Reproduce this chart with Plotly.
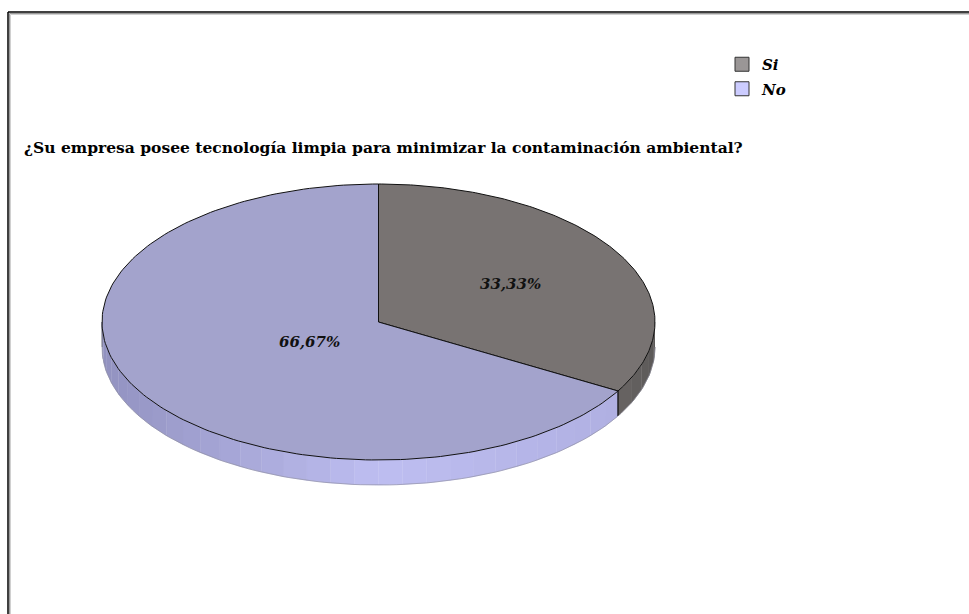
import numpy as np
import plotly.graph_objects as go

# Survey answers
categories = ["Si", "No"]
values = [33.33, 66.67]
labels = ["33,33%", "66,67%"]
title_text = "¿Su empresa posee tecnología limpia para minimizar la contaminación ambiental?"

# Styling
face_colors = ["#787372", "#a3a3cc"]
legend_colors = ["#9a9696", "#ccccff"]
W, H = 969, 614
CX, CY, RX, RY, DEPTH = 378.5, 322.0, 276.5, 138.0, 25.0
LABEL_R = [0.55, 0.29]
SERIF = "DejaVu Serif"


def pt(theta_deg, r=1.0, dz=0.0):
    """Point on the tilted pie; theta measured clockwise from 12 o'clock."""
    t = np.radians(theta_deg)
    return CX + r * RX * np.sin(t), CY - r * RY * np.cos(t) + dz


def mix(c1, c2, f):
    return "rgb(%d,%d,%d)" % tuple(round(a + (b - a) * f) for a, b in zip(c1, c2))


fig = go.Figure()

total = sum(values)
bounds = np.concatenate([[0.0], np.cumsum(values) / total * 360.0])

# Side walls (only the front half, 90..270 degrees, is visible)
side_light = {0: ((104, 100, 99), (92, 89, 88)), 1: ((176, 176, 226), (146, 146, 192))}
for i in range(len(values)):
    a0, a1 = max(bounds[i], 90.0), min(bounds[i + 1], 270.0)
    if a1 <= a0:
        continue
    n = max(2, int((a1 - a0) / 5))
    edges = np.linspace(a0, a1, n + 1)
    for k in range(n):
        s0, s1 = edges[k], edges[k + 1]
        arc = np.linspace(s0, s1, 6)
        xt, yt = pt(arc)
        xb, yb = pt(arc[::-1], dz=DEPTH)
        mid = np.radians((s0 + s1) / 2)
        s = np.sin(mid)
        if i == 0:
            col = mix(side_light[0][0], side_light[0][1], (s - 0.87) / 0.13 if s > 0.87 else 0)
        else:
            bottom = (190, 190, 241)
            col = mix(bottom, side_light[1][1], -s) if s < 0 else mix(bottom, side_light[1][0], s / 0.87)
        fig.add_trace(go.Scatter(
            x=np.concatenate([xt, xb]), y=np.concatenate([yt, yb]),
            mode="lines", fill="toself", fillcolor=col,
            line=dict(color=col, width=0.6), hoverinfo="skip", showlegend=False))

# Vertical edge where the two slices meet on the front wall
for b in bounds[1:-1]:
    if 90 <= b <= 270:
        x0, y0 = pt(b)
        x1, y1 = pt(b, dz=DEPTH)
        fig.add_trace(go.Scatter(x=[x0, x1], y=[y0, y1], mode="lines",
                                 line=dict(color="#111111", width=1.3),
                                 hoverinfo="skip", showlegend=False))

# Outer lower rim of the side wall
rim = np.linspace(90, 270, 120)
xr, yr = pt(rim, dz=DEPTH)
fig.add_trace(go.Scatter(x=xr, y=yr, mode="lines", line=dict(color="#8a8a9a", width=0.6),
                         hoverinfo="skip", showlegend=False))
xl, yl = pt(np.array([270.0, 270.0]), dz=np.array([0.0, DEPTH]))
fig.add_trace(go.Scatter(x=xl, y=yl, mode="lines", line=dict(color="#555566", width=0.8),
                         hoverinfo="skip", showlegend=False))

# Top faces
for i, name in enumerate(categories):
    arc = np.linspace(bounds[i], bounds[i + 1], 200)
    xa, ya = pt(arc)
    xs = np.concatenate([[CX], xa, [CX]])
    ys = np.concatenate([[CY], ya, [CY]])
    fig.add_trace(go.Scatter(
        x=xs, y=ys, mode="lines", fill="toself", fillcolor=face_colors[i],
        line=dict(color="#111111", width=1), name=name,
        hovertemplate=f"{name}: {labels[i]}<extra></extra>", showlegend=False))

# Percentage labels
for i, lab in enumerate(labels):
    mid = (bounds[i] + bounds[i + 1]) / 2
    lx, ly = pt(mid, r=LABEL_R[i])
    fig.add_annotation(x=lx, y=ly, text=f"<b><i>{lab}</i></b>", showarrow=False,
                       font=dict(family=SERIF, size=15, color="#111111"))

# Legend entries
for i, name in enumerate(categories):
    fig.add_trace(go.Scatter(
        x=[None], y=[None], mode="markers", name=f"<b><i>{name}</i></b>",
        legendgroup=name,
        marker=dict(symbol="square", size=14, color=legend_colors[i],
                    line=dict(color="#333333", width=1))))

# Title
fig.add_annotation(x=22, y=147, xanchor="left", yanchor="middle", showarrow=False,
                   text=f"<b>{title_text}</b>",
                   font=dict(family=SERIF, size=15.5, color="#000000"))

# Chart frame (top and left edges with a soft inner shade)
frame = [(12, "#000000", 1.5), (13.5, "#9a9a9a", 1), (14.5, "#d0d0d0", 1)]
for off, col, w in frame:
    fig.add_shape(type="line", x0=off - 4, x1=W, y0=off, y1=off, line=dict(color=col, width=w))
    fig.add_shape(type="line", x0=off - 4, x1=off - 4, y0=off, y1=H, line=dict(color=col, width=w))

fig.update_layout(
    width=W, height=H, margin=dict(l=0, r=0, t=0, b=0),
    paper_bgcolor="white", plot_bgcolor="white",
    xaxis=dict(range=[0, W], visible=False, fixedrange=True),
    yaxis=dict(range=[H, 0], visible=False, fixedrange=True),
    showlegend=True,
    legend=dict(x=722 / W, y=1 - 48 / H, xanchor="left", yanchor="top",
                font=dict(family=SERIF, size=15, color="#000000"),
                bgcolor="rgba(0,0,0,0)", tracegroupgap=2, itemwidth=30),
)

fig.write_html("out.html")
